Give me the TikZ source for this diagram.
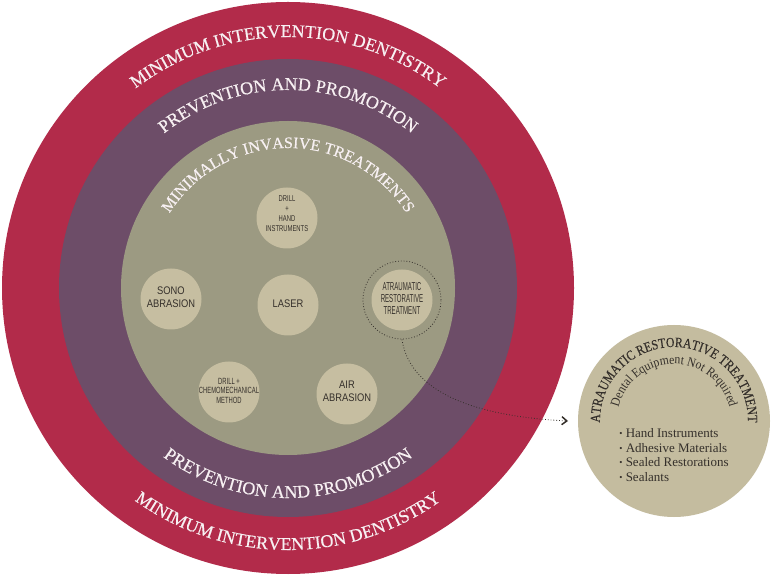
\documentclass[tikz,border=0pt]{standalone}
\usepackage{fontspec}
\setmainfont{Liberation Serif}
\newfontfamily\lblfont{Liberation Sans}
\newfontfamily\ringfont{Liberation Serif}[FakeBold=0.4]
\newfontfamily\capfont{Liberation Serif}[FakeStretch=0.84,FakeBold=0.3]
\newfontfamily\subfont{Liberation Serif}[FakeStretch=0.9]
\usepackage{graphicx}
\usetikzlibrary{decorations.text,arrows.meta}
\definecolor{redring}{HTML}{B22B4A}
\definecolor{purplering}{HTML}{6D4D68}
\definecolor{tanring}{HTML}{9C9A82}
\definecolor{smallfill}{HTML}{C6BEA1}
\definecolor{bigfill}{HTML}{C4BC9F}
\definecolor{darktext}{HTML}{35302B}
\definecolor{ringtext}{HTML}{F7F0F2}
\newcommand\lbl[4]{\scalebox{#1}[1]{\fontsize{#2}{#3}\selectfont\lblfont\begin{tabular}{@{}c@{}}#4\end{tabular}}}
\newcommand\bul{\raisebox{1pt}{\fontsize{9}{9}\selectfont\textbullet}\ }
\begin{document}
\begin{tikzpicture}[x=1pt,y=1pt,
  bigc/.style={circle, inner sep=0pt, outer sep=0pt},
  smallc/.style={circle, fill=smallfill, minimum size=61pt, inner sep=0pt},
  lbltext/.style={text=darktext, inner sep=0pt},
  ringlbl/.style={decorate, decoration={text along path, text align=center, text color=ringtext}},
  artlbl/.style={decorate, decoration={text along path, text align=center, text color=darktext}},
]
\useasboundingbox (0,0) rectangle (771,576);
\fill[white] (0,0) rectangle (771,576);
% rings
\node[bigc, fill=redring, minimum size=572pt] (mid) at (288,288) {};
\node[bigc, fill=purplering, minimum size=458pt] (pp) at (288,288) {};
\node[bigc, fill=tanring, minimum size=334pt] (mit) at (288,288) {};
% ring texts
\path[ringlbl, decoration={text={|\ringfont\fontsize{18}{20}\selectfont|MINIMUM INTERVENTION DENTISTRY}}]
  (mid.center) ++(180:251) arc[start angle=180, end angle=0, radius=251];
\path[ringlbl, decoration={text={|\ringfont\fontsize{18}{20}\selectfont|MINIMUM INTERVENTION DENTISTRY}}]
  (mid.center) ++(180:262) arc[start angle=180, end angle=360, radius=262];
\path[ringlbl, decoration={text={|\ringfont\fontsize{18}{20}\selectfont|PREVENTION AND PROMOTION}}]
  (pp.center) ++(180:198) arc[start angle=180, end angle=0, radius=198];
\path[ringlbl, decoration={text={|\ringfont\fontsize{18}{20}\selectfont|PREVENTION AND PROMOTION}}]
  (pp.center) ++(180:210) arc[start angle=180, end angle=360, radius=210];
\path[ringlbl, decoration={text={|\ringfont\fontsize{16}{18}\selectfont|MINIMALLY INVASIVE TREATMENTS}}]
  (mit.center) ++(180:140) arc[start angle=180, end angle=0, radius=140];
% small circles
\node[smallc] (dh) at (287,358) {};
\node[lbltext] (dht) at ([yshift=3pt]dh.center) {\lbl{0.69}{8.5}{10}{DRILL\\+\\HAND\\INSTRUMENTS}};
\node[smallc] (sono) at (171,277) {};
\node[lbltext] (sonot) at ([yshift=1pt]sono.center) {\lbl{0.85}{11}{13.3}{SONO\\ABRASION}};
\node[smallc] (laser) at (288,271) {};
\node[lbltext] (lasert) at (laser.center) {\lbl{0.85}{11}{13.3}{LASER}};
\node[smallc] (art) at (402,276) {};
\node[lbltext] (artt) at (art.center) {\lbl{0.53}{11.5}{12.3}{ATRAUMATIC\\RESTORATIVE\\TREATMENT}};
\node[circle, draw=darktext, dotted, line width=0.8pt, minimum size=78pt, inner sep=0pt] (artring) at (art.center) {};
\node[smallc] (chemo) at (229,184) {};
\node[lbltext] (chemot) at (chemo.center) {\lbl{0.65}{9}{9.6}{DRILL +\\CHEMOMECHANICAL\\METHOD}};
\node[smallc] (air) at (347,182) {};
\node[lbltext] (airt) at ([yshift=2pt]air.center) {\lbl{0.85}{11}{13.3}{AIR\\ABRASION}};
% right circle
\node[bigc, fill=bigfill, minimum size=192pt] (artbig) at (674,155) {};
\path[artlbl, decoration={text={|\capfont\fontsize{14}{16}\selectfont|ATRAUMATIC RESTORATIVE TREATMENT}}]
  (artbig.center) ++(200:74) arc[start angle=200, end angle=-20, radius=74];
\path[artlbl, decoration={text={|\subfont\fontsize{13}{15}\selectfont|Dental Equipment Not Required}}]
  (artbig.center) ++(200:57) arc[start angle=200, end angle=-20, radius=57];
\node[text=darktext, align=left, font=\fontsize{13}{14.5}\selectfont, inner sep=0pt] (list) at (674,121)
  {\bul Hand Instruments\\ \bul Adhesive Materials\\ \bul Sealed Restorations\\ \bul Sealants};
% connector
\coordinate (arrowend) at ([xshift=-10pt]artbig.west);
\draw[dotted, line width=0.8pt, darktext, -{Straight Barb[length=5pt,width=8pt,line width=1.5pt]}]
  (artring.south) .. controls (408,196) and (450,161) .. (arrowend);
\end{tikzpicture}
\end{document}
